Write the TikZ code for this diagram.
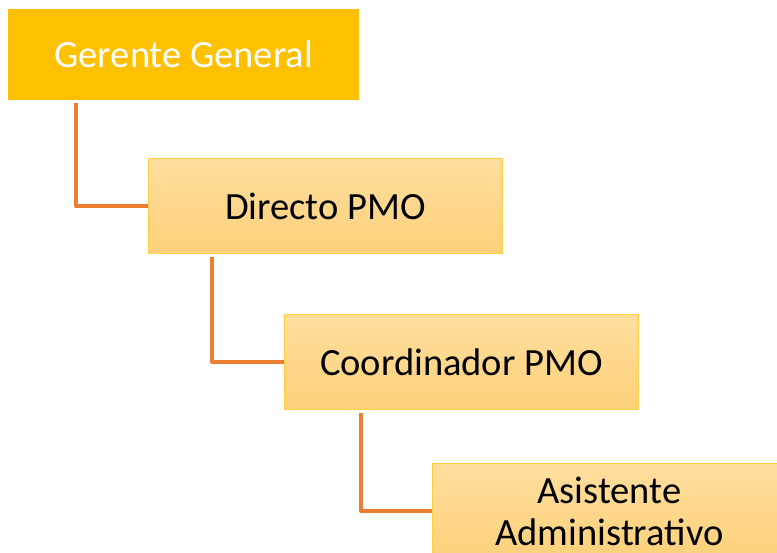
\documentclass[tikz,border=0pt]{standalone}
\usepackage{fontspec}
\setmainfont{Carlito}
\usepackage{xcolor}
\definecolor{gold}{HTML}{FFC000}
\definecolor{paletop}{HTML}{FFDE9E}
\definecolor{palebot}{HTML}{FDD17A}
\definecolor{lineorange}{HTML}{ED7D31}

\begin{document}
\begin{tikzpicture}[x=1pt,y=-1pt,
  topbox/.style={rectangle, fill=gold, text=white, anchor=north west, minimum width=351pt, minimum height=91pt, inner sep=0pt, font=\fontsize{38.5}{42}\selectfont},
  subbox/.style={rectangle, draw=gold!75, line width=0.8pt, top color=paletop, bottom color=palebot, anchor=north west, minimum width=354pt, minimum height=95pt, inner sep=0pt, align=center, font=\fontsize{38.5}{42}\selectfont},
  link/.style={lineorange, line width=4pt, line join=round, shorten <=3pt}]
\useasboundingbox (0,0) rectangle (777,552);
\fill[white] (0,0) rectangle (777,552);

\node[topbox] (gerente) at (8,9) {Gerente General};
\node[subbox] (director) at (148,158) {Directo PMO};
\node[subbox] (coordinador) at (284,314) {Coordinador PMO};
\node[subbox] (asistente) at (432,463) {Asistente\\Administrativo};

\draw[link] ([xshift=68pt]gerente.south west) |- (director.west);
\draw[link] ([xshift=64pt]director.south west) |- (coordinador.west);
\draw[link] ([xshift=77pt]coordinador.south west) |- (asistente.west);
\end{tikzpicture}
\end{document}
